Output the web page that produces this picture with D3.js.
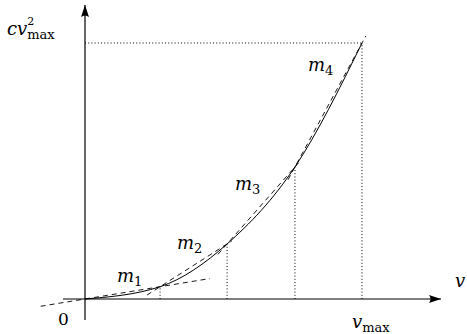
<!DOCTYPE html>
<html>
<head>
<meta charset="utf-8">
<script src="https://cdn.jsdelivr.net/npm/d3@7"></script>
<style>
  body { margin: 0; background: #fff; }
  text { font-family: "DejaVu Serif", serif; fill: #000; }
</style>
</head>
<body>
<div id="container"></div>
<script>
// knots of the piecewise approximation (v normalised to v_max, y normalised to c v_max^2)
const knotV = [0, 0.271, 0.513, 0.758, 1];
const knotY = [0, 0.048, 0.215, 0.516, 1];
// how far each dashed secant line runs, in v units
const secantFrom = [-0.16, 0.224, 0.48, 0.733];
const secantTo   = [0.451, 0.53, 0.78, 1.014];
const slopeLabels = ["1", "2", "3", "4"];

const width = 467, height = 334;
const origin = { x: 85, y: 299 };

const svg = d3.select("#container")
  .append("svg")
    .attr("width", width)
    .attr("height", height);

const x = d3.scaleLinear().domain([0, 1]).range([origin.x, 362]);
const y = d3.scaleLinear().domain([0, 1]).range([origin.y, 43]);

// arrow head, LaTeX style
svg.append("defs").append("marker")
    .attr("id", "arrow")
    .attr("viewBox", "-13 -5 14 10")
    .attr("refX", 0).attr("refY", 0)
    .attr("markerWidth", 14).attr("markerHeight", 10)
    .attr("markerUnits", "userSpaceOnUse")
    .attr("orient", "auto")
  .append("path")
    .attr("d", "M0,0 L-12,-4 Q-9,0 -12,4 Z")
    .attr("fill", "#000");

// axes
svg.append("line")
    .attr("x1", 63).attr("y1", origin.y)
    .attr("x2", 441).attr("y2", origin.y)
    .attr("stroke", "#000").attr("stroke-width", 1.2)
    .attr("marker-end", "url(#arrow)");
svg.append("line")
    .attr("x1", origin.x).attr("y1", 320)
    .attr("x2", origin.x).attr("y2", 5)
    .attr("stroke", "#000").attr("stroke-width", 1.2)
    .attr("marker-end", "url(#arrow)");

// dotted guides
const dotted = svg.append("g")
    .attr("stroke", "#000")
    .attr("stroke-width", 1)
    .attr("stroke-dasharray", "1 2.2");
dotted.selectAll("line.v")
  .data(d3.range(1, knotV.length))
  .join("line")
    .attr("class", "v")
    .attr("x1", i => x(knotV[i])).attr("x2", i => x(knotV[i]))
    .attr("y1", y(0)).attr("y2", i => y(knotY[i]));
dotted.append("line")
    .attr("x1", x(0)).attr("x2", x(1))
    .attr("y1", y(1)).attr("y2", y(1));

// the curve
const pts = knotV.map((v, i) => [v, knotY[i]]);
svg.append("path")
    .datum(pts)
    .attr("fill", "none")
    .attr("stroke", "#000")
    .attr("stroke-width", 1)
    .attr("d", d3.line().x(d => x(d[0])).y(d => y(d[1])).curve(d3.curveMonotoneX));

// dashed secants
svg.append("g")
    .attr("stroke", "#000")
    .attr("stroke-width", 0.9)
    .attr("stroke-dasharray", "5 4")
  .selectAll("line")
  .data(d3.range(4))
  .join("line")
    .each(function(i) {
      const m = (knotY[i + 1] - knotY[i]) / (knotV[i + 1] - knotV[i]);
      const f = v => knotY[i] + m * (v - knotV[i]);
      d3.select(this)
        .attr("x1", x(secantFrom[i])).attr("y1", y(f(secantFrom[i])))
        .attr("x2", x(secantTo[i])).attr("y2", y(f(secantTo[i])));
    });

// math-ish label: italic main, roman sub/sup
function mathLabel(px, py, main, sub, sup) {
  const g = svg.append("g");
  const t = g.append("text")
      .attr("x", px).attr("y", py)
      .attr("font-size", 18)
      .attr("font-style", "italic")
      .text(main);
  const w = t.node().getComputedTextLength();
  if (sup) g.append("text").attr("x", px + w).attr("y", py - 10)
      .attr("font-size", 11).text(sup);
  if (sub) g.append("text").attr("x", px + w).attr("y", py + 4)
      .attr("font-size", 13).text(sub);
}

const labelPos = [[117, 282], [177, 249], [235, 190], [308, 71]];
labelPos.forEach((p, i) => mathLabel(p[0], p[1], "m", slopeLabels[i]));

mathLabel(7, 35, "cv", "max", "2");
mathLabel(352, 328, "v", "max");
mathLabel(455, 287, "v");
svg.append("text").attr("x", 58).attr("y", 325).attr("font-size", 17).text("0");
</script>
</body>
</html>
